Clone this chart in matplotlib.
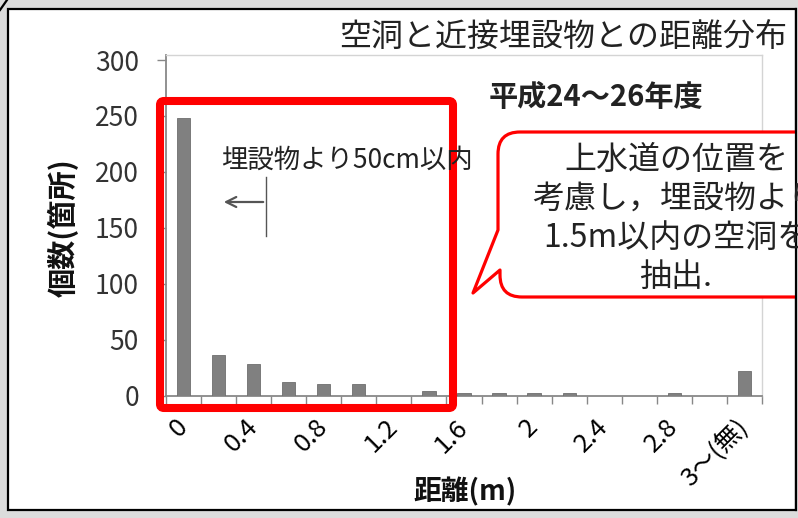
import numpy as np
import matplotlib
matplotlib.use('Agg')
import matplotlib.pyplot as plt
from matplotlib.patches import Rectangle, FancyBboxPatch, PathPatch
from matplotlib.path import Path

plt.rcParams['font.family'] = ['Noto Sans CJK JP', 'DejaVu Sans']

# data
categories = ['0', '0.2', '0.4', '0.6', '0.8', '1', '1.2', '1.4', '1.6', '1.8',
              '2', '2.2', '2.4', '2.6', '2.8', '3', '3〜(無)']
counts = [248, 36, 28, 12, 10, 10, 0, 4, 2, 2, 2, 2, 0, 0, 2, 0, 22]
shown_ticks = [0, 2, 4, 6, 8, 10, 12, 14, 16]
yticks = [0, 50, 100, 150, 200, 250, 300]

title = '空洞と近接埋設物との距離分布'
period = '平成24〜26年度'
note = '埋設物より50cm以内'
callout = ['上水道の位置を', '考慮し，埋設物より', '1.5m以内の空洞を', '抽出.']

W, H = 798, 518
fig = plt.figure(figsize=(W/100, H/100), dpi=100)
fig.patch.set_facecolor('#dcdcdc')

# background panel
bg = fig.add_axes([0, 0, 1, 1], zorder=-1)
bg.set_xlim(0, W); bg.set_ylim(H, 0); bg.axis('off')
bg.add_patch(Rectangle((8, 9), 788, 501, fc='white', ec='black', lw=1.6))
bg.plot([0, 7], [10, 0], color='black', lw=1.6)

# main chart
ax = fig.add_axes([166/W, 1-395.5/H, (762-166)/W, (395.5-55)/H])
x = np.arange(len(categories))
ax.bar(x, counts, width=0.38, color='#808080', edgecolor='#6e6e6e', lw=0.6, zorder=3)
ax.set_xlim(-0.5, len(categories)-0.5)
ax.set_ylim(0, 304.5)

ax.set_yticks(yticks)
ax.set_yticklabels([str(v) for v in yticks], fontsize=19, color='#333333')
ax.tick_params(axis='y', direction='out', length=6.5, width=1, color='#888888', pad=13)

ax.set_xticks(shown_ticks)
ax.set_xticklabels([categories[i] for i in shown_ticks], fontsize=18.5, rotation=45,
                   ha='right', va='center', rotation_mode='anchor', color='black')
ax.tick_params(axis='x', which='major', length=0, pad=20)
ax.set_xticks(np.arange(-0.5, len(categories), 1), minor=True)
ax.tick_params(axis='x', which='minor', direction='out', length=6, width=1, color='#888888')

for s in ['top', 'right']:
    ax.spines[s].set_color('#d4d4d4')
    ax.spines[s].set_linewidth(1)
for s in ['left', 'bottom']:
    ax.spines[s].set_color('#888888')
    ax.spines[s].set_linewidth(1.3)

# axis titles
fig.text(63/W, 1-228/H, '個数(箇所)', rotation=90, fontsize=21, fontweight='bold',
         ha='center', va='center', color='#111111')
fig.text(465/W, 1-492/H, '距離(m)', fontsize=20, fontweight='bold',
         ha='center', va='center', color='#111111')

# overlay for annotations
ov = fig.add_axes([0, 0, 1, 1], zorder=5)
ov.set_xlim(0, W); ov.set_ylim(H, 0); ov.axis('off')
ov.patch.set_alpha(0)

ov.text(787, 37, title, fontsize=23, ha='right', va='center', color='#222222')
ov.text(596, 97, period, fontsize=21, fontweight='bold', ha='center', va='center', color='#222222')
ov.text(221, 160, note, fontsize=19, ha='left', va='center', color='#222222')
ov.annotate('', xy=(221, 202), xytext=(266, 202),
            arrowprops=dict(arrowstyle='->', color='#555555', lw=1.6, mutation_scale=18))
ov.plot([266, 266], [177, 236], color='#555555', lw=1)

# red selection box
ov.add_patch(FancyBboxPatch((160, 101), 293, 307, boxstyle='round,pad=0,rounding_size=4',
                            fill=False, ec='#ff0000', lw=5.8))

# callout bubble
verts = [(520, 132), (830, 132), (830, 297), (522, 297), (500, 297), (500, 275),
         (500, 270), (473, 293), (498, 230), (498, 154), (498, 132), (520, 132), (520, 132)]
codes = [Path.MOVETO, Path.LINETO, Path.LINETO, Path.LINETO, Path.CURVE3, Path.CURVE3,
         Path.LINETO, Path.LINETO, Path.LINETO, Path.LINETO, Path.CURVE3, Path.CURVE3,
         Path.CLOSEPOLY]
ov.add_patch(PathPatch(Path(verts, codes), fc='white', ec='#ff0000', lw=2.3, joinstyle='round'))
for i, line in enumerate(callout):
    ov.text(676, 160 + i*39, line, fontsize=23, ha='center', va='center', color='#222222')

# right edge of the panel over the clipped bubble
ov.add_patch(Rectangle((796.5, 0), 5, H, fc='#dcdcdc', ec='none'))
ov.plot([796, 796], [9, 510], color='black', lw=1.6)

fig.savefig('out.png', dpi=100)
